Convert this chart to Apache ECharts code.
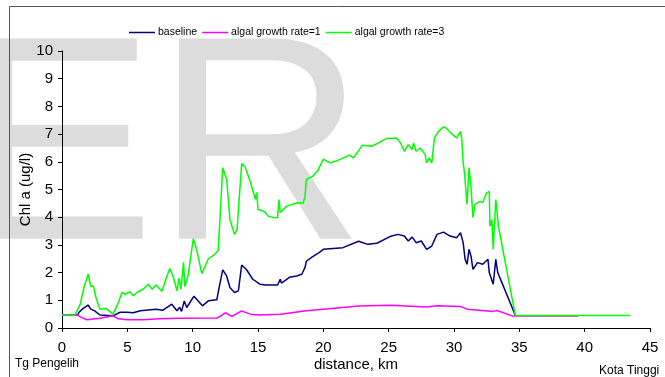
<!DOCTYPE html>
<html><head><meta charset="utf-8">
<script src="https://cdn.jsdelivr.net/npm/echarts@6/dist/echarts.min.js"></script>
<style>html,body{margin:0;padding:0;background:#fff}#c{width:665px;height:377px}</style>
</head><body><div id="c"></div>
<script>
const seriesNames = ['baseline', 'algal growth rate=1', 'algal growth rate=3'];
const xTicks = [0, 45, 5];
const yTicks = [0, 10, 1];
const baselineData = [[0,0.47],[1.2,0.47],[1.3,0.57],[1.6,0.7],[2.0,0.83],[2.2,0.68],[2.5,0.62],[2.9,0.47],[3.9,0.44],[4.45,0.57],[4.95,0.57],[5.45,0.55],[6.0,0.62],[7.2,0.68],[7.7,0.64],[8.4,0.86],[8.8,0.62],[9.0,0.75],[9.15,0.6],[9.35,0.97],[9.55,0.74],[10.1,1.15],[10.75,0.8],[11.2,0.98],[11.85,1.02],[12.0,1.4],[12.3,2.1],[12.6,1.88],[12.85,1.46],[13.2,1.28],[13.5,1.34],[13.75,2.27],[14.1,2.12],[14.6,1.76],[15.15,1.58],[15.55,1.55],[16.5,1.55],[16.7,1.76],[16.8,1.62],[17.4,1.83],[17.95,1.88],[18.35,1.94],[18.6,2.19],[18.7,2.41],[19.1,2.55],[19.7,2.73],[20.0,2.84],[21.5,2.9],[22.7,3.13],[23.4,3.02],[24.1,3.06],[25.1,3.3],[25.7,3.38],[26.2,3.32],[26.5,3.14],[26.8,3.28],[27.1,3.08],[27.5,3.14],[27.9,2.84],[28.3,2.96],[28.7,3.38],[29.2,3.46],[29.7,3.32],[30.2,3.26],[30.5,3.44],[30.7,3.08],[30.85,2.48],[31.0,2.3],[31.15,2.84],[31.3,2.6],[31.45,2.12],[31.8,2.36],[32.2,2.3],[32.6,2.48],[32.7,2.0],[33.0,1.58],[33.2,2.48],[33.35,2.0],[34.7,0.45]];
const rate1Data = [[0,0.47],[1.2,0.47],[1.4,0.4],[1.9,0.3],[2.9,0.35],[3.9,0.44],[4.3,0.33],[5.0,0.3],[6.2,0.3],[7.5,0.33],[8.8,0.35],[11.85,0.36],[12.1,0.42],[12.5,0.55],[13.0,0.42],[13.75,0.62],[14.4,0.5],[15.15,0.47],[16.7,0.5],[18.7,0.62],[20.0,0.68],[22.7,0.79],[25.1,0.82],[27.9,0.76],[28.7,0.8],[30.5,0.78],[31.0,0.68],[33.0,0.6],[33.3,0.63],[34.5,0.43],[39.5,0.43]];
const rate3Data = [[0,0.47],[1.0,0.47],[1.15,0.4],[1.4,0.86],[1.7,1.5],[2.0,1.94],[2.2,1.5],[2.4,1.52],[2.6,1.1],[2.9,0.68],[3.4,0.7],[3.9,0.5],[4.05,0.55],[4.3,0.9],[4.6,1.29],[4.8,1.22],[5.2,1.3],[5.45,1.17],[5.8,1.3],[6.2,1.4],[6.6,1.58],[6.9,1.4],[7.2,1.55],[7.65,1.33],[8.0,1.83],[8.25,2.15],[8.5,1.87],[8.8,1.34],[8.95,1.8],[9.1,1.4],[9.3,2.37],[9.4,1.5],[9.65,1.9],[10.05,3.22],[10.3,2.84],[10.7,1.96],[11.2,2.5],[11.7,2.66],[11.95,2.8],[12.1,4.03],[12.3,5.79],[12.6,5.36],[12.85,3.92],[13.2,3.38],[13.4,3.56],[13.75,5.94],[14.0,5.83],[14.4,5.3],[14.8,4.64],[14.9,4.9],[15.0,4.28],[15.5,4.2],[15.8,4.03],[16.2,3.99],[16.5,3.98],[16.6,4.64],[16.7,4.17],[17.2,4.4],[18.0,4.52],[18.45,4.5],[18.6,4.75],[18.7,5.36],[19.2,5.48],[19.6,5.7],[20.0,6.1],[20.5,5.96],[21.1,6.05],[22.0,6.24],[22.3,6.14],[23.0,6.6],[23.7,6.56],[24.3,6.7],[24.8,6.84],[25.6,6.86],[25.9,6.69],[26.2,6.38],[26.5,6.62],[26.8,6.44],[26.9,6.68],[27.1,6.38],[27.4,6.5],[27.8,6.26],[27.9,5.96],[28.1,6.14],[28.3,5.96],[28.5,6.86],[28.8,7.09],[29.2,7.26],[29.4,7.22],[29.9,6.98],[30.2,6.86],[30.5,7.09],[30.6,6.8],[30.7,6.0],[30.8,5.6],[31.0,4.46],[31.15,5.79],[31.3,5.1],[31.45,3.99],[31.6,4.46],[32.0,4.57],[32.2,4.53],[32.5,4.88],[32.7,4.93],[32.75,3.67],[32.9,3.92],[33.0,2.84],[33.2,4.64],[33.4,3.67],[34.7,0.45],[43.5,0.45]];
const colors = ['#000080', '#ff00ff', '#00ff00'];
const allData = [baselineData, rate1Data, rate3Data];

const FONT = 'Liberation Sans, Arial, sans-serif';
const chart = echarts.init(document.getElementById('c'), null, {renderer: 'canvas'});
chart.setOption({
  animation: false,
  backgroundColor: '#fff',
  grid: {left: 62, right: 15, top: 51, bottom: 48},
  legend: {
    left: 124, top: 22, itemWidth: 26, itemHeight: 1.5, itemGap: 5, icon: 'rect',
    itemStyle: {borderWidth: 0},
    textStyle: {fontFamily: FONT, fontSize: 10.5, color: '#000', padding: [0,0,0,-2]},
    data: seriesNames
  },
  graphic: [
    {type: 'text', z: -10, left: -39, top: 13, style: {text: 'ER', font: '291px "Liberation Sans", Arial, sans-serif', fill: '#dcdcdc', verticalAlign: 'middle'}},
    {type: 'line', z: 10, shape: {x1: 9.5, y1: 6.5, x2: 665, y2: 6.5}, style: {stroke: '#555', lineWidth: 1}},
    {type: 'line', z: 10, shape: {x1: 9.5, y1: 6.5, x2: 9.5, y2: 377}, style: {stroke: '#555', lineWidth: 1}},
    {type: 'text', z: 10, left: 15, top: 358, style: {text: 'Tg Pengelih', font: '12px ' + FONT, fill: '#000'}},
    {type: 'text', z: 10, left: 599, top: 365, style: {text: 'Kota Tinggi', font: '12px ' + FONT, fill: '#000'}}
  ],
  xAxis: {
    type: 'value', min: xTicks[0], max: xTicks[1], interval: xTicks[2],
    name: 'distance, km', nameLocation: 'middle', nameGap: 29, nameMoveOverlap: false,
    nameTextStyle: {fontFamily: FONT, fontSize: 15, color: '#000'},
    splitLine: {show: false},
    axisLine: {lineStyle: {color: '#000', width: 1}},
    axisTick: {length: 4, lineStyle: {color: '#000'}},
    axisLabel: {margin: 12, fontFamily: FONT, fontSize: 15, color: '#000'}
  },
  yAxis: {
    type: 'value', min: yTicks[0], max: yTicks[1], interval: yTicks[2],
    name: 'Chl a (ug/l)', nameLocation: 'middle', nameGap: 29, nameMoveOverlap: false,
    nameTextStyle: {fontFamily: FONT, fontSize: 15, color: '#000'},
    splitLine: {show: false},
    axisLine: {show: true, lineStyle: {color: '#000', width: 1}},
    axisTick: {show: true, length: 4, lineStyle: {color: '#000'}},
    axisLabel: {margin: 9, fontFamily: FONT, fontSize: 15, color: '#000'}
  },
  series: seriesNames.map((n, i) => ({
    name: n, type: 'line', data: allData[i], symbol: 'none',
    lineStyle: {color: colors[i], width: 1.5}, itemStyle: {color: colors[i]},
    z: 2 + i
  }))
});
</script></body></html>
